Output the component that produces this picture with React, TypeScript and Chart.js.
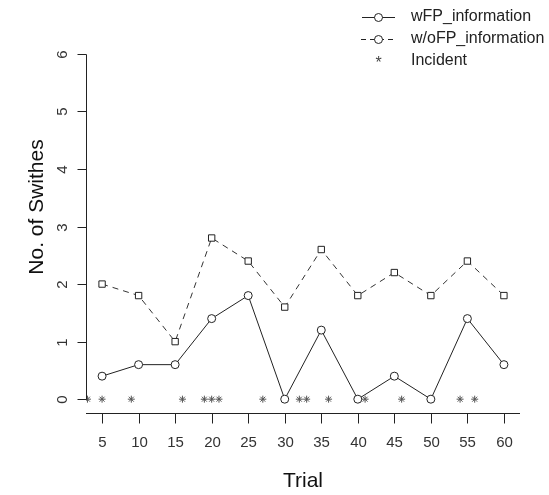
import React, { useEffect, useRef } from "react";
import { Chart, registerables } from "chart.js";

Chart.register(...registerables);

const trials = [5, 10, 15, 20, 25, 30, 35, 40, 45, 50, 55, 60];
const withFP = [0.4, 0.6, 0.6, 1.4, 1.8, 0, 1.2, 0, 0.4, 0, 1.4, 0.6];
const withoutFP = [2.0, 1.8, 1.0, 2.8, 2.4, 1.6, 2.6, 1.8, 2.2, 1.8, 2.4, 1.8];
const incidentTrials = [3, 5, 9, 16, 19, 20, 21, 27, 32, 33, 36, 41, 46, 54, 56];
const xTicks = [5, 10, 15, 20, 25, 30, 35, 40, 45, 50, 55, 60];
const yTicks = [0, 1, 2, 3, 4, 5, 6];
const seriesNames = ["wFP_information", "w/oFP_information", "Incident"];

const FONT = '"Liberation Sans", Arial, sans-serif';
const INK = "#222";

const axesPlugin = {
  id: "rAxes",
  afterDraw(chart: any) {
    const { ctx, chartArea, scales } = chart;
    const xs = scales.x;
    const ys = scales.y;
    ctx.save();
    ctx.strokeStyle = INK;
    ctx.fillStyle = "#333";
    ctx.lineWidth = 1;

    // y axis line (0..6)
    const left = Math.round(chartArea.left) + 0.5;
    ctx.beginPath();
    ctx.moveTo(left, Math.round(ys.getPixelForValue(yTicks[0])) + 0.5);
    ctx.lineTo(left, Math.round(ys.getPixelForValue(yTicks[yTicks.length - 1])) + 0.5);
    ctx.stroke();
    ctx.font = "15px " + FONT;
    ctx.textAlign = "center";
    ctx.textBaseline = "middle";
    for (const t of yTicks) {
      const py = Math.round(ys.getPixelForValue(t)) + 0.5;
      ctx.beginPath();
      ctx.moveTo(left, py);
      ctx.lineTo(left - 9, py);
      ctx.stroke();
      ctx.save();
      ctx.translate(63, py);
      ctx.rotate(-Math.PI / 2);
      ctx.fillText(String(t), 0, 0);
      ctx.restore();
    }

    // x axis line
    const bottom = Math.round(chartArea.bottom) + 0.5;
    ctx.beginPath();
    ctx.moveTo(chartArea.left, bottom);
    ctx.lineTo(chartArea.right, bottom);
    ctx.stroke();
    ctx.font = "15px " + FONT;
    for (const t of xTicks) {
      const px = Math.round(xs.getPixelForValue(t)) + 0.5;
      ctx.beginPath();
      ctx.moveTo(px, bottom);
      ctx.lineTo(px, bottom + 10);
      ctx.stroke();
      ctx.fillText(String(t), px, 443);
    }

    // titles
    ctx.fillStyle = "#111";
    ctx.font = "21px " + FONT;
    ctx.fillText("Trial", (chartArea.left + chartArea.right) / 2, 481);
    ctx.save();
    ctx.translate(37, 207);
    ctx.rotate(-Math.PI / 2);
    ctx.fillText("No. of Swithes", 0, 0);
    ctx.restore();

    // legend
    const rows = [17, 39, 61];
    ctx.strokeStyle = INK;
    // row 1 solid
    ctx.beginPath();
    ctx.moveTo(362, rows[0] + 0.5);
    ctx.lineTo(395, rows[0] + 0.5);
    ctx.stroke();
    ctx.beginPath();
    ctx.arc(378.5, rows[0] + 0.5, 4, 0, Math.PI * 2);
    ctx.fillStyle = "#fff";
    ctx.fill();
    ctx.stroke();
    // row 2 dashed
    ctx.setLineDash([5, 4]);
    ctx.beginPath();
    ctx.moveTo(361, rows[1] + 0.5);
    ctx.lineTo(396, rows[1] + 0.5);
    ctx.stroke();
    ctx.setLineDash([]);
    ctx.beginPath();
    ctx.arc(378.5, rows[1] + 0.5, 4, 0, Math.PI * 2);
    ctx.fillStyle = "#fff";
    ctx.fill();
    ctx.stroke();
    // row 3 star
    ctx.fillStyle = "#444";
    ctx.textAlign = "center";
    ctx.font = "16px " + FONT;
    ctx.fillText("*", 378.5, rows[2] + 3);
    ctx.textAlign = "left";
    ctx.fillStyle = "#222";
    ctx.font = "16px " + FONT;
    rows.forEach((ry, i) => ctx.fillText(seriesNames[i], 411, ry));
    ctx.restore();
  },
};

export default function App() {
  const ref = useRef<HTMLCanvasElement | null>(null);
  useEffect(() => {
    if (!ref.current) return;
    const chart = new Chart(ref.current, {
      type: "line",
      data: {
        datasets: [
          {
            label: seriesNames[0],
            data: trials.map((t, i) => ({ x: t, y: withFP[i] })),
            borderColor: INK,
            borderWidth: 1,
            pointStyle: "circle",
            pointRadius: 4,
            pointBackgroundColor: "#fff",
            pointBorderColor: INK,
            pointBorderWidth: 1,
            tension: 0,
          },
          {
            label: seriesNames[1],
            data: trials.map((t, i) => ({ x: t, y: withoutFP[i] })),
            borderColor: "#333",
            borderWidth: 1,
            borderDash: [6, 5],
            pointStyle: "rect",
            pointRadius: 4.5,
            pointBackgroundColor: "#fff",
            pointBorderColor: INK,
            pointBorderWidth: 1,
            tension: 0,
          },
          {
            label: seriesNames[2],
            data: incidentTrials.map((t) => ({ x: t, y: 0 })),
            showLine: false,
            pointStyle: "star",
            pointRadius: 3.5,
            pointBorderColor: "#555",
            pointBorderWidth: 1,
          },
        ],
      },
      options: {
        animation: false,
        responsive: false,
        devicePixelRatio: 1,
        layout: { padding: { left: 86, top: 40, right: 29, bottom: 82 } },
        plugins: { legend: { display: false }, tooltip: { enabled: false } },
        scales: {
          x: { type: "linear", min: 2.8, max: 62.2, display: false },
          y: { type: "linear", min: -0.24, max: 6.24, display: false },
        },
      },
      plugins: [axesPlugin],
    });
    return () => chart.destroy();
  }, []);
  return (
    <div style={{ position: "fixed", left: 0, top: 0, width: 549, height: 495, background: "#fff" }}>
      <canvas ref={ref} width={549} height={495} style={{ width: 549, height: 495 }} />
    </div>
  );
}
